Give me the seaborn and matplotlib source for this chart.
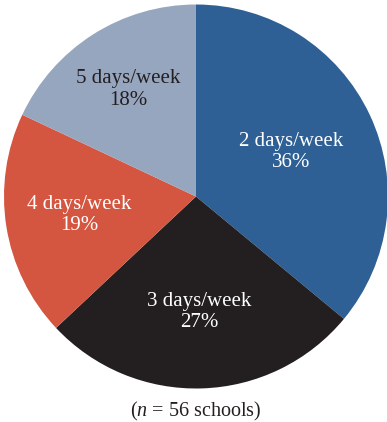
import matplotlib
matplotlib.use("Agg")
import numpy as np
import matplotlib.pyplot as plt
import seaborn as sns

sns.set_theme(style="white")
plt.rcParams['font.family'] = ['Liberation Serif', 'DejaVu Serif']
plt.rcParams['mathtext.fontset'] = 'custom'
plt.rcParams['mathtext.rm'] = 'Liberation Serif'
plt.rcParams['mathtext.it'] = 'Liberation Serif:italic'

categories = ["2 days/week", "3 days/week", "4 days/week", "5 days/week"]
shares = [36, 27, 19, 18]
colors = ["#2e6095", "#231f20", "#d45640", "#97a6bf"]
label_colors = ["white", "white", "white", "#231f20"]
label_dist = [0.545, 0.6, 0.615, 0.66]
caption = "($n$ = 56 schools)"

W, H = 387, 422
fig = plt.figure(figsize=(W / 100, H / 100), dpi=100)
ax = fig.add_axes([0, 0, 1, 1])

cx, cy, R = 196, H - 196.5, 192
labels = [f"{c}\n{s}%" for c, s in zip(categories, shares)]
wedges, texts = ax.pie(shares, colors=colors, startangle=90, counterclock=False,
                       center=(cx, cy), radius=R, labels=labels,
                       labeldistance=0.6, frame=True,
                       wedgeprops=dict(linewidth=0),
                       textprops=dict(fontsize=15, ha='center', va='center',
                                      linespacing=1.15))
for w, t, c, d in zip(wedges, texts, label_colors, label_dist):
    ang = np.deg2rad((w.theta1 + w.theta2) / 2)
    t.set_position((cx + d * R * np.cos(ang), cy + d * R * np.sin(ang)))
    t.set_color(c)
    t.set_horizontalalignment('center')
ax.set_xlim(0, W)
ax.set_ylim(0, H)
ax.set_aspect('equal')
ax.axis('off')

ax.text(196, H - 411, caption, ha='center', va='center', fontsize=14.5, color='#231f20')

fig.savefig("out.png", dpi=100)
